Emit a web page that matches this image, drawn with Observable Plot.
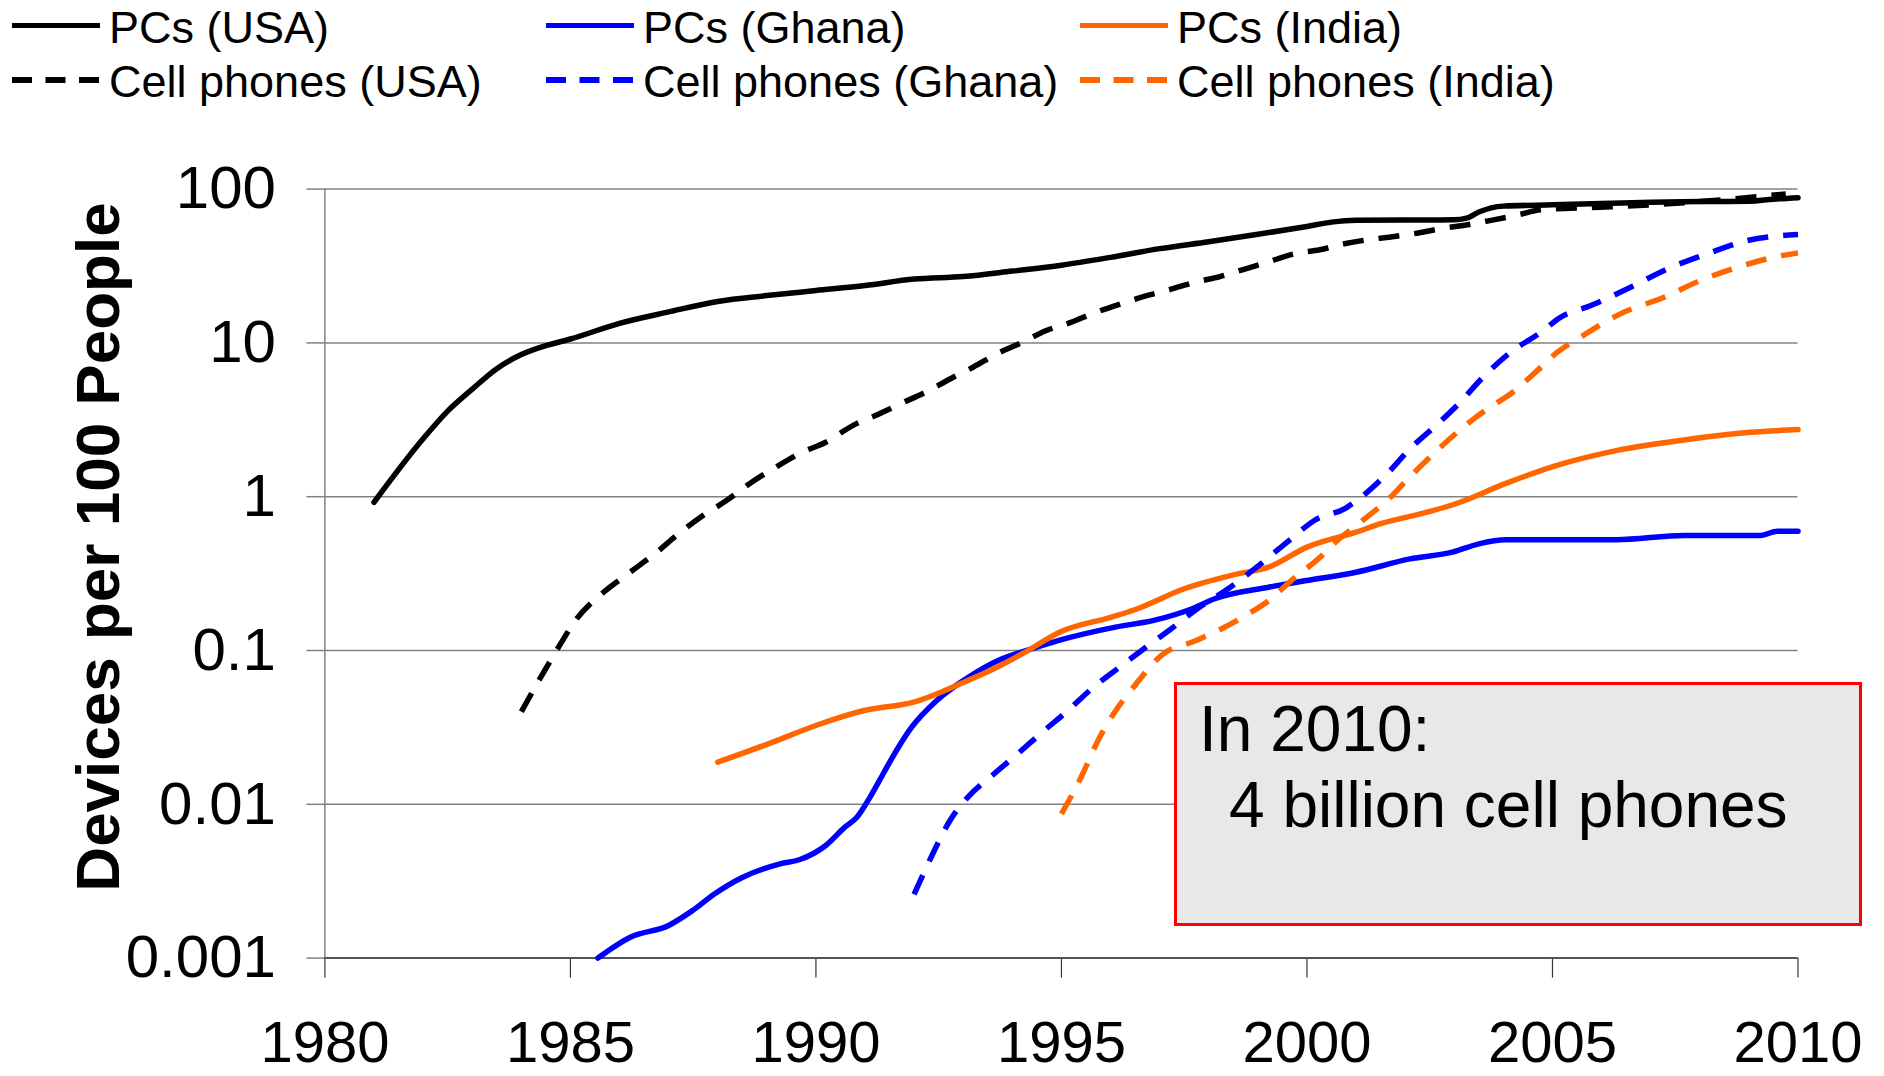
<!DOCTYPE html>
<html>
<head>
<meta charset="utf-8">
<script src="https://cdn.jsdelivr.net/npm/d3@7"></script>
<script src="https://cdn.jsdelivr.net/npm/@observablehq/plot@0.6"></script>
<style>
  html, body { margin: 0; padding: 0; background: #fff; overflow: hidden; }
  #wrap { position: relative; width: 1884px; height: 1076px; font-family: "Liberation Sans", Arial, sans-serif; }
  #legend { position: absolute; left: 0; top: 0; }
  #chart { position: absolute; left: 0; top: 110px; }
  #note { position: absolute; left: 0; top: 0; pointer-events: none; }
</style>
</head>
<body>
<div id="wrap">
  <svg id="legend" width="1884" height="110"></svg>
  <div id="chart"></div>
  <svg id="note" width="1884" height="1076"></svg>
</div>
<script>
// ---------- DATA ----------
const countries = ["USA", "Ghana", "India"];
const countryColors = ["#000000", "#0000ff", "#ff6600"];

const pcUsaYears = [1981, 1982, 1982.5, 1983, 1983.5, 1984, 1984.5, 1985, 1986, 1987, 1988, 1989, 1990, 1991, 1992, 1993, 1994, 1995, 1996, 1997, 1998, 1999, 2000, 2000.5, 2001, 2002, 2003, 2003.25, 2003.5, 2004, 2005, 2006, 2007, 2008, 2009, 2009.5, 2010];
const pcUsaValues = [0.92, 2.38, 3.6, 5.0, 6.8, 8.4, 9.6, 10.6, 13.4, 15.9, 18.6, 20.3, 21.9, 23.6, 26, 27, 29.3, 32, 36, 41, 45.5, 50.8, 57.2, 61, 62.8, 63, 63.1, 64.7, 71, 77.5, 79, 80.5, 82, 83, 83.3, 86, 88];

const pcGhanaYears = [1985.56, 1986.23, 1987.0, 1987.47, 1987.94, 1988.49, 1989.27, 1989.66, 1990.2, 1990.59, 1990.83, 1991.1, 1991.37, 1991.68, 1991.95, 1992.46, 1993.16, 1993.71, 1994.33, 1994.93, 1996.1, 1996.88, 1997.66, 1998.12, 1999.22, 2000.0, 2001.0, 2002.1, 2002.96, 2003.5, 2004.05, 2006.3, 2007.68, 2009.24, 2009.58, 2010];
const pcGhanaValues = [0.001, 0.00137, 0.00163, 0.00202, 0.00262, 0.00333, 0.0041, 0.00436, 0.0054, 0.0071, 0.0082, 0.0111, 0.0158, 0.0235, 0.0317, 0.0473, 0.0687, 0.086, 0.101, 0.116, 0.142, 0.157, 0.187, 0.217, 0.258, 0.285, 0.323, 0.394, 0.436, 0.494, 0.525, 0.525, 0.56, 0.56, 0.597, 0.597];

const pcIndiaYears = [1988, 1989.03, 1990.04, 1990.98, 1991.99, 1993.09, 1993.55, 1994.26, 1994.96, 1996.02, 1996.49, 1997.5, 1998.59, 1999.22, 2000, 2001, 2001.5, 2002.49, 2003.03, 2004.05, 2005.04, 2006.32, 2007.68, 2009.03, 2010];
const pcIndiaValues = [0.0188, 0.0247, 0.0329, 0.0407, 0.0462, 0.0638, 0.0741, 0.0975, 0.1315, 0.165, 0.184, 0.252, 0.315, 0.348, 0.47, 0.588, 0.667, 0.8, 0.9, 1.22, 1.58, 2.0, 2.34, 2.62, 2.73];

const cellUsaYears = [1984, 1984.43, 1984.78, 1985.13, 1985.68, 1986.2, 1986.8, 1987.16, 1987.7, 1988.17, 1988.64, 1989.19, 1989.73, 1990.2, 1990.75, 1991.21, 1991.78, 1992.19, 1992.74, 1993.2, 1993.75, 1994.18, 1994.68, 1995.19, 1995.7, 1996.2, 1996.79, 1997.18, 1997.72, 1998.23, 1998.7, 1999.2, 1999.75, 2000.26, 2000.76, 2001.23, 2001.78, 2002.24, 2002.79, 2003.18, 2003.8, 2004.3, 2004.76, 2005.98, 2007.34, 2008.69, 2009.75];
const cellUsaValues = [0.04, 0.07, 0.108, 0.161, 0.24, 0.32, 0.447, 0.56, 0.755, 0.94, 1.21, 1.56, 1.95, 2.26, 2.9, 3.37, 4.1, 4.71, 5.85, 6.95, 8.7, 10, 12, 13.6, 15.8, 17.9, 20.5, 22.1, 24.8, 27, 30, 33.5, 38, 40.3, 44.1, 46.8, 49.2, 51.7, 55.7, 58, 63.1, 68, 73.3, 76.2, 80.2, 86.4, 93];

const cellGhanaYears = [1992, 1992.38, 1992.73, 1993.09, 1993.63, 1994.1, 1994.63, 1995.13, 1995.65, 1996.18, 1996.72, 1997.19, 1997.81, 1998.44, 1999.06, 1999.7, 2000.15, 2000.78, 2001.15, 2001.63, 2002.1, 2002.65, 2003.1, 2003.6, 2004.15, 2004.76, 2005.17, 2005.78, 2006.59, 2007.34, 2008.15, 2008.97, 2010];
const cellGhanaValues = [0.0026, 0.00477, 0.00785, 0.0111, 0.0158, 0.0212, 0.0298, 0.0407, 0.0577, 0.0778, 0.105, 0.135, 0.191, 0.258, 0.366, 0.54, 0.70, 0.84, 1.02, 1.41, 2.05, 2.95, 4.05, 6.05, 8.7, 11.7, 14.7, 17.5, 23, 30.3, 38, 46.3, 50.7];

const cellIndiaYears = [1995, 1995.4, 1995.71, 1996.06, 1996.49, 1997.03, 1997.74, 1998.12, 1998.75, 1999.22, 1999.68, 2000.23, 2000.62, 2001.09, 2001.63, 2002.1, 2002.65, 2003.1, 2003.7, 2004.15, 2004.69, 2005.1, 2005.57, 2006.39, 2007.27, 2008.02, 2008.77, 2009.45, 2010];
const cellIndiaValues = [0.00867, 0.015, 0.0247, 0.0387, 0.059, 0.0927, 0.116, 0.1315, 0.169, 0.211, 0.285, 0.394, 0.519, 0.683, 0.944, 1.35, 2.0, 2.69, 3.77, 4.67, 6.6, 8.7, 10.9, 15.5, 19.8, 25.5, 31, 35.7, 38.5];

const xDomain = [1980, 2010];
const xTicks = [1980, 1985, 1990, 1995, 2000, 2005, 2010];
const yDomain = [0.001, 100];
const yTicks = [0.001, 0.01, 0.1, 1, 10, 100];
const yTickLabels = ["0.001", "0.01", "0.1", "1", "10", "100"];
const yTitle = "Devices per 100 People";
const noteLines = ["In 2010:", "4 billion cell phones"];

// ---------- BUILD TABLE ----------
const seriesDefs = [
  {label: "PCs (USA)", device: "PCs", country: "USA", years: pcUsaYears, values: pcUsaValues},
  {label: "PCs (Ghana)", device: "PCs", country: "Ghana", years: pcGhanaYears, values: pcGhanaValues},
  {label: "PCs (India)", device: "PCs", country: "India", years: pcIndiaYears, values: pcIndiaValues},
  {label: "Cell phones (USA)", device: "Cell", country: "USA", years: cellUsaYears, values: cellUsaValues},
  {label: "Cell phones (Ghana)", device: "Cell", country: "Ghana", years: cellGhanaYears, values: cellGhanaValues},
  {label: "Cell phones (India)", device: "Cell", country: "India", years: cellIndiaYears, values: cellIndiaValues}
];
const rows = seriesDefs.flatMap(s => s.years.map((yr, i) => ({series: s.label, device: s.device, country: s.country, year: yr, value: s.values[i]})));
const colorOf = c => countryColors[countries.indexOf(c)];

const DASH = "21,15";

const chart = Plot.plot({
  width: 1884,
  height: 966,
  marginTop: 78.6,
  marginBottom: 118.4,
  marginLeft: 324.4,
  marginRight: 86.5,
  style: {fontFamily: "'Liberation Sans', Arial, sans-serif", background: "transparent", color: "black", overflow: "visible"},
  x: {domain: xDomain, label: null},
  y: {type: "log", domain: yDomain, label: null},
  color: {domain: countries, range: countryColors},
  marks: [
    Plot.ruleY(yTicks, {stroke: "#808080", strokeWidth: 1.5}),
    Plot.ruleX([xDomain[0]], {stroke: "#808080", strokeWidth: 1.5}),
    Plot.axisY({ticks: yTicks, tickFormat: d => yTickLabels[yTicks.indexOf(d)], tickSize: 18, tickPadding: 31, stroke: "#808080", strokeWidth: 1.5, fill: "black", fontSize: 60, label: null}),
    Plot.axisX({ticks: xTicks, tickFormat: d => String(d), tickSize: 20, tickPadding: 43, stroke: "#333", strokeWidth: 1.2, fill: "black", fontSize: 58, label: null}),
    Plot.ruleY([yDomain[0]], {stroke: "#555", strokeWidth: 2}),
    ...seriesDefs.map(s => Plot.line(rows.filter(r => r.series === s.label), {
      x: "year", y: "value", stroke: "country",
      strokeWidth: s.device === "PCs" ? 5.5 : 5.5,
      strokeDasharray: s.device === "PCs" ? null : DASH,
      strokeLinecap: s.device === "PCs" ? "round" : "butt",
      strokeLinejoin: "round",
      curve: "monotone-x"
    })),
    Plot.text([yTitle], {frameAnchor: "left", rotate: -90, dx: -226, dy: -26.6, fontSize: 62, fontWeight: "bold", textAnchor: "middle", lineAnchor: "middle", fill: "black"})
  ]
});
document.getElementById("chart").appendChild(chart);

// ---------- LEGEND ----------
const legend = d3.select("#legend");
const colX = [12, 546, 1080];
const rowBase = [42.5, 97];
seriesDefs.forEach((s, i) => {
  const col = countries.indexOf(s.country);
  const row = s.device === "PCs" ? 0 : 1;
  const x0 = colX[col];
  const yb = rowBase[row];
  legend.append("line")
    .attr("x1", x0).attr("x2", x0 + 88)
    .attr("y1", yb - 17).attr("y2", yb - 17)
    .attr("stroke", colorOf(s.country))
    .attr("stroke-width", s.device === "PCs" ? 5 : 6)
    .attr("stroke-dasharray", s.device === "PCs" ? null : "20,13.5");
  legend.append("text")
    .attr("x", x0 + 97).attr("y", yb)
    .attr("font-size", 45)
    .attr("font-family", "'Liberation Sans', Arial, sans-serif")
    .attr("fill", "black")
    .text(s.label);
});

// ---------- NOTE BOX ----------
const note = d3.select("#note");
note.append("rect")
  .attr("x", 1175.5).attr("y", 683.5).attr("width", 685).attr("height", 241)
  .attr("fill", "#e8e8e8").attr("stroke", "#ff0000").attr("stroke-width", 3);
note.append("text").attr("x", 1199).attr("y", 751)
  .attr("font-size", 64).attr("font-family", "'Liberation Sans', Arial, sans-serif").attr("fill", "black")
  .text(noteLines[0]);
note.append("text").attr("x", 1229).attr("y", 827)
  .attr("font-size", 64).attr("font-family", "'Liberation Sans', Arial, sans-serif").attr("fill", "black")
  .text(noteLines[1]);
</script>
</body>
</html>
